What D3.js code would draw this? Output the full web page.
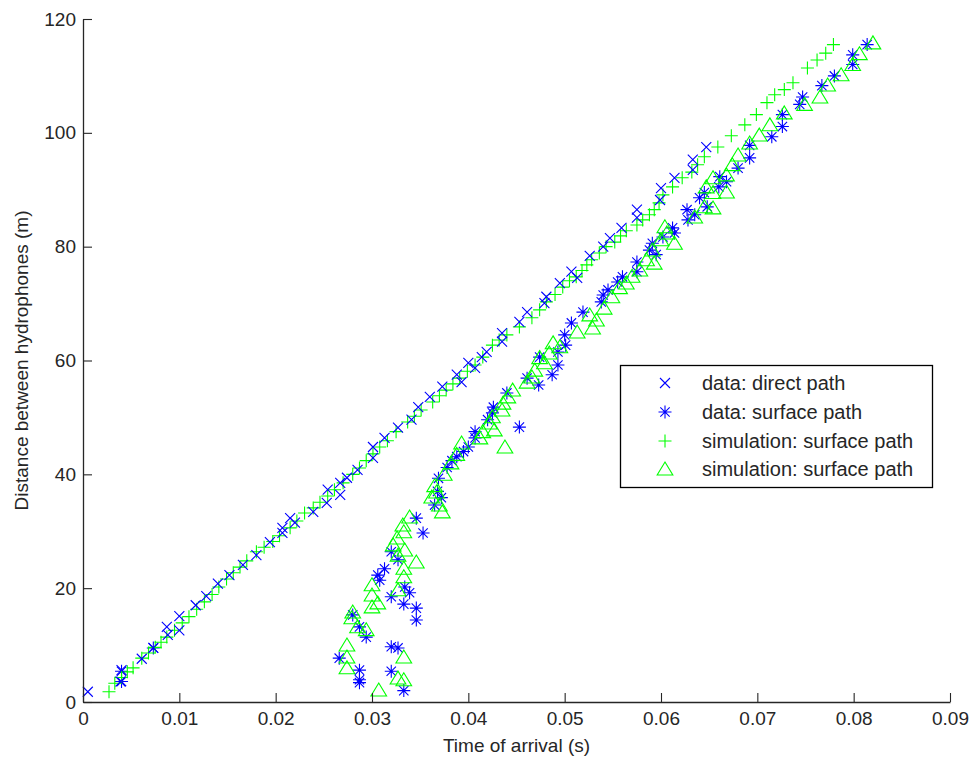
<!DOCTYPE html>
<html>
<head>
<meta charset="utf-8">
<script src="https://cdn.jsdelivr.net/npm/d3@7/dist/d3.min.js"></script>
<style>
  html, body { margin: 0; padding: 0; background: #fff; }
  svg { display: block; font-family: "Liberation Sans", Arial, Helvetica, sans-serif; }
</style>
</head>
<body>
<svg id="chart" width="972" height="757"></svg>
<script>
// ---------- data ----------
const xTicks = [0, 0.01, 0.02, 0.03, 0.04, 0.05, 0.06, 0.07, 0.08, 0.09];
const yTicks = [0, 20, 40, 60, 80, 100, 120];
const legendLabels = ["data: direct path", "data: surface path", "simulation: surface path", "simulation: surface path"];

// data: direct path  [time (s), distance (m)]
const dataDirect = [
  [0.0005,1.8],[0.0039,3.6],[0.0040,5.6],[0.0061,7.6],[0.0073,9.5],[0.0087,13.2],[0.0088,11.8],
  [0.0100,12.6],[0.0100,15.1],[0.0117,17.0],[0.0128,18.6],[0.0140,20.8],[0.0152,22.3],[0.0166,24.1],
  [0.0180,25.8],[0.0194,28.1],[0.0207,29.7],[0.0207,30.6],[0.0215,32.3],[0.0220,31.5],[0.0239,33.4],
  [0.0253,35.0],[0.0254,37.3],[0.0267,36.4],[0.0267,38.5],[0.0274,39.4],[0.0285,40.8],[0.0301,42.9],
  [0.0301,44.8],[0.0313,46.4],[0.0327,48.2],[0.0341,49.6],[0.0348,51.8],[0.0360,53.6],[0.0373,55.4],
  [0.0388,57.5],[0.0393,56.2],[0.0400,59.6],[0.0407,58.7],[0.0414,60.6],[0.0419,61.5],[0.0435,63.3],
  [0.0435,64.8],[0.0453,66.8],[0.0461,68.5],[0.0479,70.1],[0.0481,71.2],[0.0495,73.6],[0.0507,75.6],
  [0.0513,74.5],[0.0526,78.4],[0.0540,80.0],[0.0547,81.5],[0.0559,83.3],[0.0575,85.1],[0.0575,86.5],
  [0.0599,88.2],[0.0600,90.3],[0.0614,92.1],[0.0633,93.5],[0.0633,95.3],[0.0647,97.5]
];

// data: surface path
const dataSurface = [
  [0.0040,3.6],[0.0040,5.4],[0.0073,9.5],
  [0.0266,7.7],[0.0280,15.3],[0.0287,13.2],[0.0294,11.4],[0.0287,5.6],[0.0287,3.9],[0.0287,3.4],
  [0.0306,22.3],[0.0308,21.4],[0.0313,23.4],[0.0320,26.4],[0.0327,25.0],[0.0320,18.5],[0.0320,9.7],
  [0.0327,9.5],[0.0320,5.4],[0.0334,20.2],[0.0339,19.2],[0.0333,17.2],[0.0346,16.5],[0.0346,14.4],
  [0.0333,2.0],[0.0346,32.3],[0.0353,29.7],
  [0.0365,34.6],[0.0368,37.0],[0.0369,39.3],[0.0372,35.9],[0.0378,41.2],[0.0383,42.4],[0.0388,43.1],
  [0.0395,44.0],[0.0400,44.8],[0.0407,46.4],[0.0407,47.5],[0.0420,49.6],[0.0425,50.8],[0.0426,51.8],
  [0.0440,54.3],[0.0453,48.3],[0.0461,56.9],[0.0473,55.7],[0.0474,60.6],[0.0487,57.5],[0.0493,59.2],
  [0.0493,61.5],[0.0501,62.7],[0.0500,64.5],[0.0507,66.6],[0.0519,68.5],[0.0538,70.3],[0.0540,71.5],
  [0.0545,72.4],[0.0555,73.8],[0.0560,74.7],[0.0575,75.6],[0.0575,77.3],[0.0588,79.4],[0.0595,78.6],
  [0.0591,80.6],[0.0602,81.7],[0.0612,83.3],[0.0614,82.4],[0.0628,84.7],[0.0635,85.6],[0.0627,86.5],
  [0.0648,87.0],[0.0640,88.6],[0.0645,89.5],[0.0660,90.5],[0.0668,91.4],[0.0661,92.3],[0.0680,93.8],
  [0.0692,95.6],[0.0692,97.8],[0.0715,99.3],[0.0726,101.1],[0.0726,103.2],[0.0744,105.0],[0.0747,106.3],
  [0.0767,108.3],[0.0780,110.0],[0.0799,112.0],[0.0799,113.7],[0.0814,115.5]
];

// simulation (plus markers)
const simPlus = [
  [0.0027,1.8],[0.0033,3.3],[0.0040,4.3],[0.0046,5.3],[0.0052,6.0],[0.0061,7.7],[0.0068,8.6],
  [0.0075,9.6],[0.0081,10.5],[0.0087,11.4],[0.0095,12.6],[0.0103,13.9],[0.0110,15.0],[0.0118,16.3],
  [0.0126,17.6],[0.0134,18.9],[0.0141,20.2],[0.0149,21.6],[0.0156,22.7],[0.0163,23.7],[0.0170,24.8],
  [0.0180,26.4],[0.0188,27.2],[0.0197,28.2],[0.0204,29.2],[0.0215,30.6],[0.0222,31.8],[0.0230,33.2],
  [0.0239,34.1],[0.0246,35.1],[0.0254,36.2],[0.0261,37.3],[0.0270,38.5],[0.0280,40.0],[0.0287,41.1],
  [0.0294,42.4],[0.0301,43.6],[0.0308,44.8],[0.0316,45.9],[0.0325,47.5],[0.0337,49.2],[0.0344,50.2],
  [0.0351,51.3],[0.0363,52.7],[0.0370,53.8],[0.0377,54.8],[0.0384,55.9],[0.0391,56.9],[0.0399,58.1],
  [0.0407,59.2],[0.0415,60.6],[0.0425,62.7],[0.0432,63.6],[0.0440,64.5],[0.0453,65.9],[0.0466,67.5],
  [0.0474,68.9],[0.0481,70.3],[0.0490,71.6],[0.0498,72.9],[0.0505,74.0],[0.0512,74.7],[0.0518,75.8],
  [0.0523,76.8],[0.0528,77.7],[0.0536,78.9],[0.0543,80.0],[0.0552,80.8],[0.0558,81.9],[0.0564,82.8],
  [0.0575,83.8],[0.0581,84.7],[0.0588,85.6],[0.0593,86.5],[0.0598,87.7],[0.0602,89.1],[0.0612,90.5],
  [0.0622,92.1],[0.0632,93.1],[0.0638,94.4],[0.0645,95.8],[0.0659,97.5],[0.0673,99.5],[0.0687,101.4],
  [0.0699,103.2],[0.0710,105.3],[0.0718,106.7],[0.0728,107.6],[0.0737,108.8],[0.0752,111.4],
  [0.0762,112.8],[0.0771,114.0],[0.0779,115.5]
];

// simulation (triangle markers)
const simTriangle = [
  [0.0274,6.0],[0.0274,7.9],[0.0274,10.0],[0.0279,14.8],[0.0280,15.8],[0.0285,13.2],[0.0294,12.7],
  [0.0300,16.7],[0.0300,18.8],[0.0300,20.6],[0.0306,17.4],[0.0307,2.1],[0.0322,27.6],[0.0326,28.8],
  [0.0327,25.8],[0.0327,19.7],[0.0327,4.2],[0.0332,31.1],[0.0333,29.9],[0.0333,23.5],[0.0333,22.0],
  [0.0333,7.9],[0.0333,3.9],[0.0334,26.7],[0.0339,32.5],[0.0346,24.6],
  [0.0362,36.0],[0.0365,38.0],[0.0367,36.9],[0.0370,34.6],[0.0373,33.4],[0.0375,40.0],[0.0382,42.0],
  [0.0388,43.5],[0.0393,45.5],[0.0412,46.4],[0.0415,47.5],[0.0422,49.0],[0.0425,50.1],[0.0427,47.8],
  [0.0435,51.3],[0.0436,52.5],[0.0438,44.8],[0.0441,53.6],[0.0446,54.8],[0.0461,56.2],[0.0466,57.1],
  [0.0469,58.3],[0.0474,60.5],[0.0479,59.6],[0.0484,61.3],[0.0488,63.1],[0.0495,62.4],[0.0513,65.0],
  [0.0526,68.0],[0.0529,65.7],[0.0533,67.1],[0.0541,69.2],[0.0549,71.2],[0.0557,72.8],[0.0564,73.6],
  [0.0570,74.8],[0.0578,75.9],[0.0585,77.7],[0.0593,77.1],[0.0591,79.4],[0.0600,81.2],[0.0606,82.4],
  [0.0604,83.5],[0.0614,80.6],[0.0635,85.2],[0.0645,87.0],[0.0654,86.8],[0.0654,89.5],[0.0647,90.5],
  [0.0654,92.1],[0.0668,89.6],[0.0668,92.6],[0.0674,94.4],[0.0680,96.1],[0.0692,98.2],[0.0702,99.6],
  [0.0713,101.4],[0.0728,103.5],[0.0749,105.0],[0.0765,106.3],[0.0773,108.4],[0.0787,110.2],
  [0.0799,112.0],[0.0806,113.9],[0.0820,115.8]
];

// ---------- drawing ----------
const W = 972, H = 757;
const margin = { left: 83, right: 22, top: 19, bottom: 55 };
const svg = d3.select("#chart");

const x = d3.scaleLinear().domain([0, 0.09]).range([margin.left, W - margin.right]);
const y = d3.scaleLinear().domain([0, 120]).range([H - margin.bottom, margin.top]);

const BLUE = "#0000ff", GREEN = "#00ff00", AXIS = "#262626";

// marker path generators (relative to the point)
const markers = {
  cross: s => `M${-s},${-s}L${s},${s}M${-s},${s}L${s},${-s}`,
  plus: s => `M${-s},0L${s},0M0,${-s}L0,${s}`,
  star: s => { const d = s * 0.72; return `M${-s},0L${s},0M0,${-s}L0,${s}M${-d},${-d}L${d},${d}M${-d},${d}L${d},${-d}`; },
  tri: s => `M0,${-s}L${s * 1.12},${s * 0.85}L${-s * 1.12},${s * 0.85}Z`
};

const series = [
  { data: dataSurface, shape: "star", size: 6.5, color: BLUE },
  { data: simTriangle, shape: "tri", size: 7, color: GREEN },
  { data: simPlus, shape: "plus", size: 6.5, color: GREEN },
  { data: dataDirect, shape: "cross", size: 5, color: BLUE }
];

const plot = svg.append("g");
series.forEach(sr => {
  plot.append("g").selectAll("path").data(sr.data).join("path")
    .attr("transform", d => `translate(${x(d[0])},${y(d[1])})`)
    .attr("d", markers[sr.shape](sr.size))
    .attr("fill", "none")
    .attr("stroke", sr.color)
    .attr("stroke-width", 1.1);
});

// axes
const fmtX = d => d === 0 ? "0" : d3.format(".2f")(d);
const xAxis = svg.append("g")
  .attr("transform", `translate(0,${y(0)})`)
  .call(d3.axisBottom(x).tickValues(xTicks).tickFormat(fmtX).tickSizeInner(-9).tickSizeOuter(0).tickPadding(10));
const yAxis = svg.append("g")
  .attr("transform", `translate(${x(0)},0)`)
  .call(d3.axisLeft(y).tickValues(yTicks).tickSizeInner(-9).tickSizeOuter(0).tickPadding(7));

[xAxis, yAxis].forEach(a => {
  a.select(".domain").attr("stroke", AXIS).attr("stroke-width", 1.3);
  a.selectAll(".tick line").attr("stroke", AXIS).attr("stroke-width", 1.1);
  a.selectAll(".tick text").attr("fill", AXIS).style("font-size", "19px")
    .style("font-family", '"Liberation Sans", Arial, Helvetica, sans-serif');
});

// axis labels
svg.append("text")
  .attr("x", (x(0) + x(0.09)) / 2).attr("y", 752)
  .attr("text-anchor", "middle").attr("fill", AXIS).style("font-size", "19px")
  .text("Time of arrival (s)");
svg.append("text")
  .attr("transform", `translate(28,${(y(0) + y(120)) / 2}) rotate(-90)`)
  .attr("text-anchor", "middle").attr("fill", AXIS).style("font-size", "19px")
  .text("Distance between hydrophones (m)");

// legend
const lg = svg.append("g");
lg.append("rect").attr("x", 620.5).attr("y", 365.5).attr("width", 312).attr("height", 122)
  .attr("fill", "#fff").attr("stroke", "#000").attr("stroke-width", 1.3);
const legendShapes = [
  { shape: "cross", size: 5, color: BLUE },
  { shape: "star", size: 6.5, color: BLUE },
  { shape: "plus", size: 6.5, color: GREEN },
  { shape: "tri", size: 7, color: GREEN }
];
const rowY = [383, 412, 441, 469];
legendLabels.forEach((lab, i) => {
  const ls = legendShapes[i];
  lg.append("path")
    .attr("transform", `translate(665,${rowY[i]})`)
    .attr("d", markers[ls.shape](ls.size))
    .attr("fill", "none").attr("stroke", ls.color).attr("stroke-width", 1.1);
  lg.append("text").attr("x", 702).attr("y", rowY[i]).attr("dy", "0.35em")
    .attr("fill", AXIS).style("font-size", "20px").text(lab);
});
</script>
</body>
</html>
